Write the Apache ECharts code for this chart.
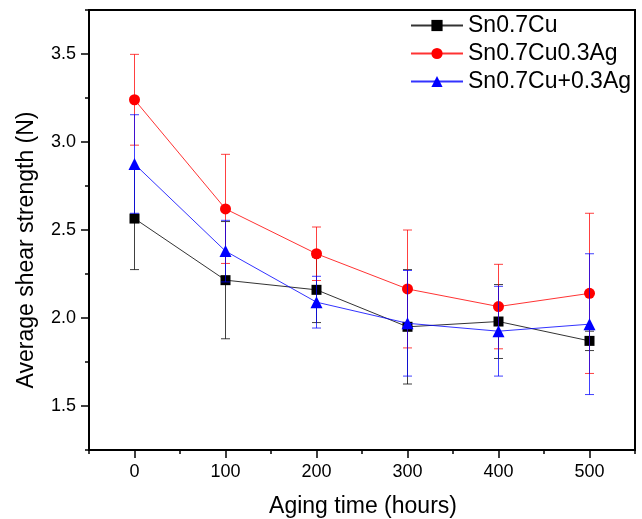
<!DOCTYPE html>
<html>
<head>
<meta charset="utf-8">
<script src="https://cdn.jsdelivr.net/npm/echarts@6/dist/echarts.min.js"></script>
<style>
html,body{margin:0;padding:0;background:#fff;}
#chart{width:642px;height:519px;}
</style>
</head>
<body>
<div id="chart"></div>
<script>
var hours = [0, 100, 200, 300, 400, 500];
var seriesNames = ['Sn0.7Cu', 'Sn0.7Cu0.3Ag', 'Sn0.7Cu+0.3Ag'];
var cu = [2.565, 2.215, 2.16, 1.95, 1.98, 1.87];
var cuErr = [0.29, 0.333, 0.186, 0.325, 0.21, 0.055];
var cuAg = [3.24, 2.62, 2.365, 2.165, 2.065, 2.14];
var cuAgErr = [0.258, 0.31, 0.152, 0.335, 0.24, 0.455];
var cuPlusAg = [2.875, 2.38, 2.09, 1.97, 1.925, 1.965];
var cuPlusAgErr = [0.28, 0.175, 0.147, 0.30, 0.255, 0.40];
var xMajorTicks = [0, 100, 200, 300, 400, 500];
var yMajorTicks = [1.5, 2.0, 2.5, 3.0, 3.5];
var xTitle = 'Aging time (hours)';
var yTitle = 'Average shear strength (N)';

var colors = ['#000000', '#ff0000', '#0000ff'];
var symbols = ['rect', 'circle', 'triangle'];
var symbolSizes = [10, 11, 12];
var means = [cu, cuAg, cuPlusAg];
var errs = [cuErr, cuAgErr, cuPlusAgErr];
var FONT = 'Liberation Sans, Arial, sans-serif';

function errRender(color) {
  return function (params, api) {
    var x = api.value(0), m = api.value(1), e = api.value(2);
    var top = api.coord([x, m + e]);
    var bot = api.coord([x, m - e]);
    var hw = 4.5;
    var style = {stroke: color, lineWidth: 1, opacity: 0.75};
    return {
      type: 'group',
      children: [
        {type: 'line', shape: {x1: top[0], y1: top[1], x2: bot[0], y2: bot[1]}, style: style},
        {type: 'line', shape: {x1: top[0] - hw, y1: top[1], x2: top[0] + hw, y2: top[1]}, style: style},
        {type: 'line', shape: {x1: bot[0] - hw, y1: bot[1], x2: bot[0] + hw, y2: bot[1]}, style: style}
      ]
    };
  };
}

var series = [];
for (var i = 0; i < 3; i++) {
  series.push({
    type: 'custom',
    name: seriesNames[i] + ' err',
    renderItem: errRender(colors[i]),
    data: hours.map(function (h, k) { return [h, means[i][k], errs[i][k]]; }),
    z: 2 + i * 2,
    silent: true
  });
  series.push({
    type: 'line',
    name: seriesNames[i],
    data: hours.map(function (h, k) { return [h, means[i][k]]; }),
    symbol: symbols[i],
    symbolSize: symbolSizes[i],
    showAllSymbol: true,
    itemStyle: {color: colors[i], opacity: 1},
    lineStyle: {color: colors[i], width: 1, opacity: 0.8},
    z: 3 + i * 2,
    animation: false
  });
}

var chart = echarts.init(document.getElementById('chart'), null, {renderer: 'canvas'});
chart.setOption({
  animation: false,
  backgroundColor: '#fff',
  grid: {left: 89, top: 10, width: 546, height: 440, show: true, borderColor: '#000', borderWidth: 2, containLabel: false},
  legend: {
    data: seriesNames,
    orient: 'vertical',
    left: 410,
    top: 14,
    padding: 0,
    itemGap: 5,
    itemWidth: 52,
    itemHeight: 14,
    textStyle: {fontFamily: FONT, fontSize: 23, color: '#000', padding: [0, 0, 0, 0]}
  },
  graphic: [{
    type: 'text',
    x: 27, y: 250, rotation: Math.PI / 2,
    style: {text: yTitle, font: '23px ' + FONT, fill: '#000', textAlign: 'center', textVerticalAlign: 'middle'}
  }, {
    type: 'text',
    x: 363, y: 507,
    style: {text: xTitle, font: '23px ' + FONT, fill: '#000', textAlign: 'center', textVerticalAlign: 'middle'}
  }],
  xAxis: [{
    type: 'value', min: -50, max: 550, interval: 50,
    axisLine: {show: true, onZero: false, lineStyle: {color: '#000', width: 2}},
    axisTick: {show: true, inside: false, length: 4, lineStyle: {color: '#000', width: 1.5}},
    axisLabel: {fontFamily: FONT, fontSize: 18, color: '#000', margin: 13,
      formatter: function (v) { return xMajorTicks.indexOf(Math.round(v)) >= 0 && Math.abs(v - Math.round(v)) < 1e-6 ? String(Math.round(v)) : ''; }},
    splitLine: {show: false}
  }, {
    type: 'value', min: -50, max: 550, position: 'bottom', gridIndex: 0,
    axisLine: {show: false, onZero: false},
    axisTick: {show: true, inside: false, length: 8, customValues: xMajorTicks, lineStyle: {color: '#000', width: 1.5}},
    axisLabel: {show: false},
    splitLine: {show: false}
  }],
  yAxis: [{
    type: 'value', min: 1.25, max: 3.75, interval: 0.25,
    axisLine: {show: true, onZero: false, lineStyle: {color: '#000', width: 2}},
    axisTick: {show: true, inside: false, length: 4, lineStyle: {color: '#000', width: 1.5}},
    axisLabel: {fontFamily: FONT, fontSize: 18, color: '#000', margin: 13,
      formatter: function (v) { return Math.abs(v * 2 - Math.round(v * 2)) < 1e-6 ? v.toFixed(1) : ''; }},
    splitLine: {show: false}
  }, {
    type: 'value', min: 1.25, max: 3.75, position: 'left', gridIndex: 0,
    axisLine: {show: false, onZero: false},
    axisTick: {show: true, inside: false, length: 8, customValues: yMajorTicks, lineStyle: {color: '#000', width: 1.5}},
    axisLabel: {show: false},
    splitLine: {show: false}
  }],
  series: series
});
</script>
</body>
</html>
